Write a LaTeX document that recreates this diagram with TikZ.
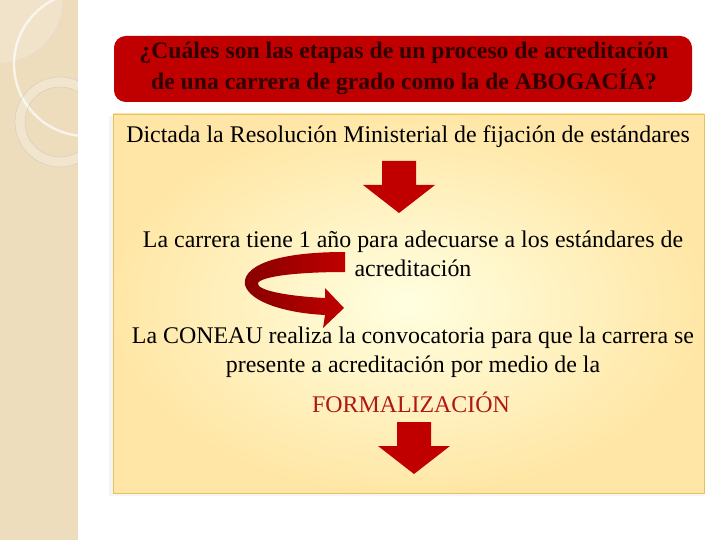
\documentclass[tikz,border=0pt]{standalone}
\usepackage{fontspec}
\setmainfont{Liberation Serif}
\usetikzlibrary{positioning}
\definecolor{rojo}{HTML}{C00000}
\definecolor{tinta}{HTML}{2E0000}
\definecolor{franja}{HTML}{EEDDBD}
\definecolor{formal}{HTML}{B01818}
\definecolor{borde}{HTML}{E6C25C}

\begin{document}
\begin{tikzpicture}[x=0.03cm, y=-0.03cm,
	texto/.style={align=center, font=\fontsize{20.4}{24.8}\selectfont, inner sep=0pt},
	titulo/.style={align=center, font=\fontsize{20.2}{26.5}\selectfont\bfseries, text=tinta, inner sep=0pt},
	bajada/.pic={\fill[rojo] (-17,0) -- (17,0) -- (17,24) -- (36,24) -- (0,52) -- (-36,24) -- (-17,24) -- cycle;}]
\useasboundingbox (0,0) rectangle (720,540);
% franja izquierda
\fill[franja] (0,0) rectangle (78,540);
\begin{scope}
\clip (0,0) rectangle (78,540);
\fill[white, opacity=0.2] (0,0) -- (63,0) arc[start angle=0, end angle=90, radius=63] -- cycle;
\draw[black!15, very thin] (63,0) arc[start angle=0, end angle=90, radius=63];
\draw[white, line width=2pt, opacity=0.7] (86,64) circle[radius=72];
\fill[white, opacity=0.25, even odd rule] (60,122) circle[radius=45] (60,122) circle[radius=35];
\draw[black!25, very thin] (60,122) circle[radius=45] (60,122) circle[radius=35];
\end{scope}
% cuadro principal
\fill[black!4] (109,116) rectangle (704,496);
\shade[inner color=yellow!12!white, outer color=yellow!45!orange!35!white, draw=borde]
	(113,114) rectangle (704,493);
% titulo
\fill[rojo, rounded corners=10pt] (114,36) rectangle (692,102);
\node[titulo] (0) at (404,68) {¿Cuáles son las etapas de un proceso de acreditación\\de una carrera de grado como la de ABOGACÍA?};
\node[texto] (1) at (408,137) {Dictada la Resolución Ministerial de fijación de estándares};
\pic at (399,161) {bajada};
\node[texto] (2) at (413,254) {La carrera tiene 1 año para adecuarse a los estándares de\\acreditación};
\shade[left color=rojo!70!black, right color=rojo] (345,252) .. controls (270,252) and (242,268) .. (245,285)
	.. controls (250,302) and (285,313) .. (325,315) -- (323,328) -- (344,308) -- (325,288)
	-- (325,298) .. controls (285,296) and (256,290) .. (258,283)
	.. controls (262,276) and (300,272) .. (345,272) -- cycle;
\node[texto] (3) at (413,352) {La CONEAU realiza la convocatoria para que la carrera se\\presente a acreditación por medio de la};
\node[texto, text=formal] (4) at (411,402) {FORMALIZACIÓN};
\pic at (414,422) {bajada};
\end{tikzpicture}
\end{document}
